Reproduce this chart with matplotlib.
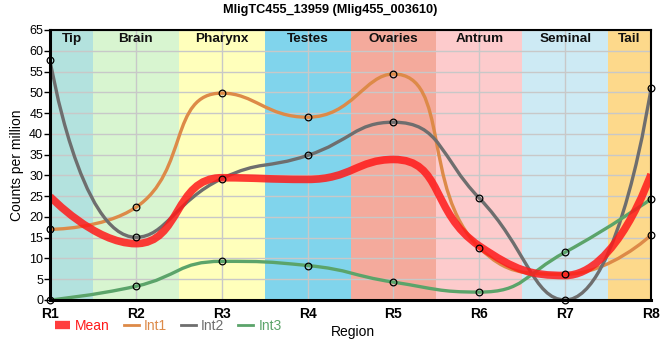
import numpy as np
import matplotlib
matplotlib.use("Agg")
import matplotlib.pyplot as plt
from matplotlib.lines import Line2D
from matplotlib.path import Path
from matplotlib.patches import PathPatch

# ── Data ──────────────────────────────────────────────────────────────────────
REGIONS = ["R1", "R2", "R3", "R4", "R5", "R6", "R7", "R8"]
INT1 = [17.0, 22.3, 49.8, 44.0, 54.4, 12.6, 6.2, 15.6]
INT2 = [57.7, 15.1, 29.2, 34.8, 42.8, 24.5, 0.0, 51.0]
INT3 = [0.0, 3.3, 9.3, 8.3, 4.3, 1.9, 11.5, 24.3]
MEAN = [round((a + b + c) / 3, 2) for a, b, c in zip(INT1, INT2, INT3)]

BANDS = ["Tip", "Brain", "Pharynx", "Testes", "Ovaries", "Antrum", "Seminal", "Tail"]
BAND_COLORS = ["#b3e2de", "#d8f5d0", "#ffffbb", "#80d4ec",
               "#f4aa9c", "#fdcbcc", "#cdeaf4", "#fdd98b"]

C_MEAN = "#ff1a1a"
C_INT1 = "#dd8a48"
C_INT2 = "#6e6e6e"
C_INT3 = "#5ba46a"


# ── Smooth bezier path, computed in pixel space (echarts-like, smooth=0.5) ───
def smooth_path(x, y, sx, sy, smooth=0.5):
    X = [float(v) * sx for v in x]
    Y = [float(v) * sy for v in y]
    n = len(X)
    verts = [(X[0], Y[0])]
    codes = [Path.MOVETO]
    cp0 = (X[0], Y[0])
    for i in range(1, n):
        px, py = X[i - 1], Y[i - 1]
        cx, cy = X[i], Y[i]
        if i == n - 1:
            cp1 = (cx, cy)
            nxt = (cx, cy)
        else:
            nx, ny = X[i + 1], Y[i + 1]
            vx, vy = nx - px, ny - py
            lp = np.hypot(cx - px, cy - py)
            ln = np.hypot(nx - cx, ny - cy)
            r = ln / (ln + lp)
            c1x = cx - vx * smooth * (1 - r)
            c1y = cy - vy * smooth * (1 - r)
            n0x = cx + vx * smooth * r
            n0y = cy + vy * smooth * r
            # keep next control point between this point and the next one
            n0x = max(min(n0x, max(nx, cx)), min(nx, cx))
            n0y = max(min(n0y, max(ny, cy)), min(ny, cy))
            vx, vy = n0x - cx, n0y - cy
            c1x = cx - vx * lp / ln
            c1y = cy - vy * lp / ln
            # ...and the previous control point between prev and this one
            c1x = max(min(c1x, max(px, cx)), min(px, cx))
            c1y = max(min(c1y, max(py, cy)), min(py, cy))
            vx, vy = cx - c1x, cy - c1y
            n0x = cx + vx * ln / lp
            n0y = cy + vy * ln / lp
            cp1 = (c1x, c1y)
            nxt = (n0x, n0y)
        verts += [cp0, cp1, (cx, cy)]
        codes += [Path.CURVE4] * 3
        cp0 = nxt
    verts = [(vx_ / sx, vy_ / sy) for vx_, vy_ in verts]
    return Path(verts, codes)


# ── Figure ───────────────────────────────────────────────────────────────────
plt.rcParams.update({"font.family": "Liberation Sans", "font.size": 9})
fig = plt.figure(figsize=(6.6, 3.6), dpi=100)
ax = fig.add_axes([0.0758, 0.1667, 0.9106, 0.75])

x = np.arange(len(REGIONS))
ax.set_xlim(0, len(REGIONS) - 1)
ax.set_ylim(0, 65)

bbox = ax.get_window_extent()
SX = bbox.width / (len(REGIONS) - 1)
SY = bbox.height / 65

for i, (name, col) in enumerate(zip(BANDS, BAND_COLORS)):
    lo = max(i - 0.5, 0)
    hi = min(i + 0.5, len(REGIONS) - 1)
    ax.axvspan(lo, hi, color=col, lw=0, zorder=0)
    ax.text((lo + hi) / 2, 64.2, name, ha="center", va="top",
            fontsize=9.7, fontweight="bold", color="#111111", zorder=6)

ax.set_yticks(range(0, 66, 5))
ax.set_xticks(x)
ax.set_xticklabels(REGIONS, fontweight="bold", fontsize=10)
ax.grid(True, color="#c8c8c8", lw=1, zorder=1)
ax.set_axisbelow(False)
for sp in ax.spines.values():
    sp.set_linewidth(1.5)
    sp.set_zorder(7)
ax.spines["left"].set_linewidth(2.2)
ax.spines["bottom"].set_linewidth(2.2)
ax.tick_params(axis="y", length=4, width=1, labelsize=9, pad=1)
ax.tick_params(axis="x", length=0, pad=5)
ax.set_ylabel("Counts per million", fontsize=10, labelpad=4)

for vals, col in [(INT1, C_INT1), (INT2, C_INT2), (INT3, C_INT3)]:
    ax.add_patch(PathPatch(smooth_path(x, vals, SX, SY), fc="none", ec=col,
                           lw=2.4, zorder=3, capstyle="butt"))

ax.add_patch(PathPatch(smooth_path(x, MEAN, SX, SY), fc="none", ec=C_MEAN,
                       lw=5.5, alpha=0.85, zorder=4, capstyle="butt"))

for vals in (INT1, INT2, INT3):
    ax.plot(x, vals, "o", ms=4.8, mfc="none", mec="black", mew=0.9,
            zorder=5, clip_on=False)

fig.suptitle("MligTC455_13959 (Mlig455_003610)", x=0.5, y=0.99,
             fontsize=9.2, fontweight="bold")

handles = [
    Line2D([], [], color=C_MEAN, lw=6, alpha=0.85, solid_capstyle="butt"),
    Line2D([], [], color=C_INT1, lw=2),
    Line2D([], [], color=C_INT2, lw=2),
    Line2D([], [], color=C_INT3, lw=2),
]
leg = fig.legend(handles, ["Mean", "Int1", "Int2", "Int3"], loc="center left",
                 bbox_to_anchor=(0.083, 0.094), ncol=4, frameon=False,
                 fontsize=10, handlelength=1.1, handletextpad=0.35,
                 columnspacing=1.0, borderpad=0, borderaxespad=0)
for txt, col in zip(leg.get_texts(), [C_MEAN, C_INT1, C_INT2, C_INT3]):
    txt.set_color(col)
fig.text(0.502, 0.077, "Region", ha="left", va="center", fontsize=10)

fig.savefig("out.png", dpi=100)
